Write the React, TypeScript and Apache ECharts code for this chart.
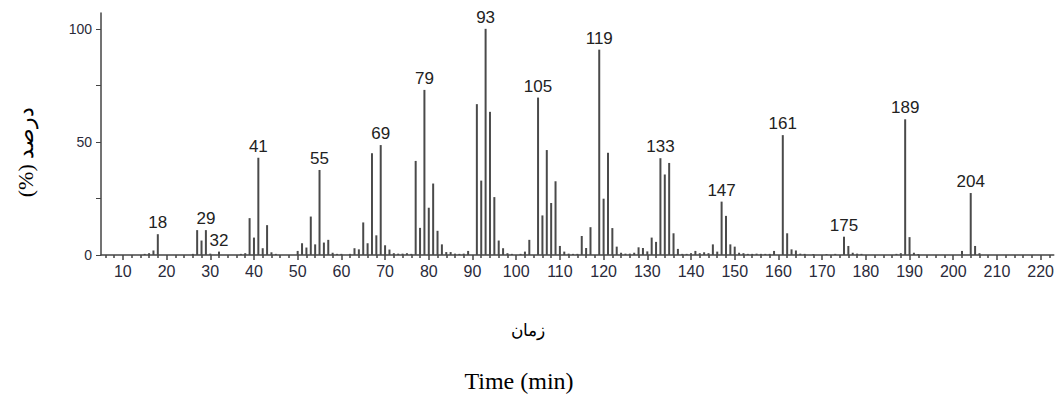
import React, { useEffect, useRef } from "react";
import * as echarts from "echarts";

// m/z positions and relative intensities (%)
const massValues: number[] = [
  15, 16, 17, 18, 26, 27, 28, 29, 30, 32, 37, 38, 39, 40, 41, 42, 43, 44, 45,
  50, 51, 52, 53, 54, 55, 56, 57, 58, 59, 60, 62, 63, 64,
  65, 66, 67, 68, 69, 70, 71, 72, 73, 74, 75, 76,
  77, 78, 79, 80, 81, 82, 83, 84, 85, 86, 87, 88, 89,
  91, 92, 93, 94, 95, 96, 97, 98, 99, 101, 102, 103,
  105, 106, 107, 108, 109, 110, 111, 112, 113, 114,
  115, 116, 117, 119, 120, 121, 122, 123, 124, 125, 126, 127, 128, 129, 130,
  131, 132, 133, 134, 135, 136, 137, 138, 139, 140,
  141, 142, 143, 144, 145, 146, 147, 148, 149, 150, 151, 152, 153, 154, 155, 156, 157, 158, 159,
  161, 162, 163, 164, 165, 166, 168, 171, 173,
  175, 176, 177, 178, 179, 187, 188,
  189, 190, 191, 192, 202, 204, 205, 206,
];
const intensities: number[] = [
  0.5, 0.8, 2, 9.2, 0.5, 11, 6.4, 11, 0.6, 1.5, 0.5, 0.8, 16.3, 7.7, 43, 3, 13.2, 1.2, 0.5,
  1.8, 5.2, 3.3, 17, 4.7, 37.6, 5.5, 6.7, 1, 0.5, 0.5, 0.5, 3, 2.5,
  14.4, 5.2, 45, 8.7, 48.6, 4.3, 2.4, 0.8, 0.6, 0.6, 0.8, 0.5,
  41.6, 12, 73, 20.9, 31.6, 10.7, 4.7, 1.3, 1.3, 0.6, 0.5, 0.6, 1.8,
  66.7, 32.9, 100, 63.3, 25.6, 6.4, 3, 0.8, 0.5, 0.5, 1.5, 6.7,
  69.6, 17.5, 46.4, 23, 32.6, 4, 1.5, 0.6, 0.5, 0.5,
  8.4, 3.1, 12.3, 90.8, 24.9, 45.2, 11.9, 3.7, 1, 0.6, 0.6, 1, 3.4, 3.1, 1.6,
  7.7, 5.8, 42.8, 35.6, 40.7, 9.6, 2.7, 0.5, 0.5, 0.8,
  1.8, 0.8, 1.2, 0.8, 4.7, 1.5, 23.6, 17.3, 4.7, 3.7, 1, 0.8, 0.5, 0.5, 0.6, 0.5, 0.5, 0.5, 1.8,
  53, 9.6, 2.5, 2, 0.6, 0.5, 0.4, 0.4, 0.5,
  8.1, 4, 1, 0.6, 0.5, 0.5, 0.8,
  60, 7.9, 1, 0.4, 1.8, 27.4, 4, 0.8,
];
const labeledPeaks: number[] = [18, 29, 32, 41, 55, 69, 79, 93, 105, 119, 133, 147, 161, 175, 189, 204];

const xLabelValues: number[] = [10, 20, 30, 40, 50, 60, 70, 80, 90, 100, 110, 120, 130, 140, 150, 160, 170, 180, 190, 200, 210, 220];
const xMinorTicks: number[] = [6, 8, 12, 14, 16, 18, 22, 24, 26, 28, 32, 34, 36, 38, 42, 44, 46, 48, 52, 54, 56, 58, 62, 64, 66, 68, 72, 74, 76, 78, 82, 84, 86, 88, 92, 94, 96, 98, 102, 104, 106, 108, 112, 114, 116, 118, 122, 124, 126, 128, 132, 134, 136, 138, 142, 144, 146, 148, 152, 154, 156, 158, 162, 164, 166, 168, 172, 174, 176, 178, 182, 184, 186, 188, 192, 194, 196, 198, 202, 204, 206, 208, 212, 214, 216, 218, 222];
const yTickValues: number[] = [0, 25, 50, 75, 100];
const yLabelValues: number[] = [0, 50, 100];

const yAxisName = "(%) درصد";
const xAxisNameFa = "زمان";
const xAxisNameEn = "Time (min)";

export default function App() {
  const ref = useRef<HTMLDivElement>(null);
  useEffect(() => {
    if (!ref.current) return;
    const chart = echarts.init(ref.current, null, { renderer: "svg" });
    const data = massValues.map((m, i) => {
      const item: any = { value: [m, intensities[i]] };
      if (labeledPeaks.includes(m)) {
        item.label = { show: true };
      }
      return item;
    });
    const sans = "Arial, 'Liberation Sans', sans-serif";
    const serif = "'Times New Roman', 'Liberation Serif', serif";
    chart.setOption({
      animation: false,
      backgroundColor: "#ffffff",
      grid: { left: 101, right: 2, top: 13, bottom: 139, containLabel: false },
      xAxis: [
        {
          type: "value",
          min: 5,
          max: 223,
          axisLine: { show: true, lineStyle: { color: "#444", width: 1.5 } },
          axisTick: { show: true, length: 3, customValues: xMinorTicks, lineStyle: { color: "#444", width: 1.5 } },
          axisLabel: { show: true, customValues: xLabelValues, margin: 8, fontSize: 16, color: "#2a2a3a", fontFamily: sans },
          splitLine: { show: false },
        },
        {
          type: "value",
          min: 5,
          max: 223,
          position: "bottom",
          axisLine: { show: false },
          axisTick: { show: true, length: 5, customValues: xLabelValues, lineStyle: { color: "#444", width: 1.5 } },
          axisLabel: { show: false },
          splitLine: { show: false },
        },
      ],
      yAxis: {
        type: "value",
        min: 0,
        max: 107,
        axisLine: { show: true, lineStyle: { color: "#444", width: 1.5 } },
        axisTick: { show: true, length: 5, customValues: yTickValues, lineStyle: { color: "#444", width: 1 } },
        axisLabel: { show: true, customValues: yLabelValues, margin: 9, fontSize: 14, color: "#2a2a3a", fontFamily: sans },
        splitLine: { show: false },
      },
      series: [
        {
          type: "bar",
          xAxisIndex: 0,
          barWidth: 2,
          data,
          itemStyle: { color: "#4a4a4a" },
          label: {
            show: false,
            position: "top",
            distance: 3,
            fontSize: 17,
            color: "#222",
            fontFamily: sans,
            formatter: (p: any) => String(p.value[0]),
          },
        },
      ],
      graphic: [
        {
          type: "text",
          x: 25,
          y: 152,
          rotation: Math.PI / 2,
          style: { text: yAxisName, font: `22px ${serif}`, fill: "#000", textAlign: "center", textVerticalAlign: "middle" },
        },
        {
          type: "text",
          x: 528,
          y: 330,
          style: { text: xAxisNameFa, font: `17px ${serif}`, fill: "#000", textAlign: "center", textVerticalAlign: "middle" },
        },
        {
          type: "text",
          x: 519,
          y: 381,
          style: { text: xAxisNameEn, font: `24px ${serif}`, fill: "#000", textAlign: "center", textVerticalAlign: "middle" },
        },
      ],
    });
    return () => chart.dispose();
  }, []);
  return (
    <div
      ref={ref}
      style={{ position: "fixed", left: 0, top: 0, width: 1057, height: 394, background: "#fff" }}
    />
  );
}
